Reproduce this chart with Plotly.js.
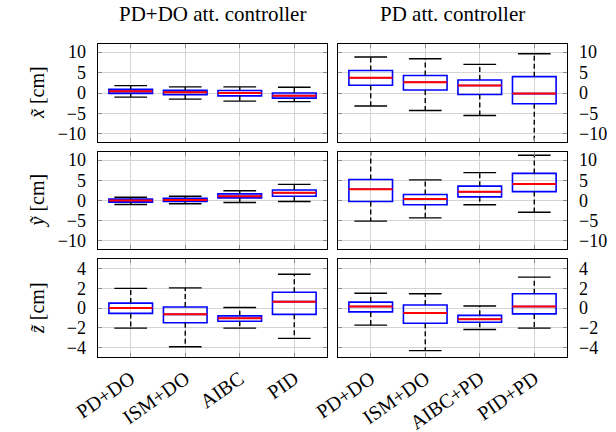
<!DOCTYPE html>
<html>
<head>
<meta charset="utf-8">
<script src="https://cdn.plot.ly/plotly-3.0.1.min.js"></script>
<style>html,body{margin:0;padding:0;background:#fff;}#chart{width:616px;height:432px;}</style>
</head>
<body>
<div id="chart"></div>
<script>
// Categories
const categoriesDO = ['PD+DO', 'ISM+DO', 'AIBC', 'PID'];
const categoriesPD = ['PD+DO', 'ISM+DO', 'AIBC+PD', 'PID+PD'];
const columnTitles = ['PD+DO att. controller', 'PD att. controller'];
const rowLabels = ['<i>x\u0303</i> [cm]', '<i>y\u0303</i> [cm]', '<i>z\u0303</i> [cm]'];

// Box statistics per category: [lower whisker, q1, median, q3, upper whisker]
const xErrDO = [[-1.0, -0.1, 0.4, 0.9, 1.8], [-1.5, -0.4, 0.2, 0.65, 1.5], [-2.0, -0.7, 0.0, 0.6, 1.5], [-2.1, -1.25, -0.65, 0.0, 1.4]];
const xErrPD = [[-3.2, 1.9, 3.75, 5.5, 8.8], [-4.3, 0.75, 2.65, 4.3, 8.4], [-5.5, -0.35, 1.85, 3.2, 7.0], [-14, -2.65, -0.15, 4.0, 9.6]];
const yErrDO = [[-1.0, -0.4, 0.0, 0.35, 0.8], [-0.8, -0.25, 0.15, 0.55, 1.05], [-0.5, 0.65, 1.05, 1.65, 2.4], [-0.25, 1.05, 1.9, 2.6, 4.0]];
const yErrPD = [[-5.1, -0.25, 2.8, 5.2, 14], [-4.3, -1.05, 0.35, 1.5, 5.1], [-1.05, 0.9, 2.15, 3.55, 6.9], [-2.9, 2.2, 4.1, 6.7, 11.2]];
const zErrDO = [[-2.05, -0.55, 0.0, 0.5, 2.0], [-3.95, -1.5, -0.65, 0.1, 2.05], [-2.05, -1.35, -1.05, -0.8, 0.05], [-3.1, -0.65, 0.65, 1.6, 3.45]];
const zErrPD = [[-1.75, -0.4, 0.15, 0.6, 1.5], [-4.35, -1.55, -0.5, 0.3, 1.45], [-2.2, -1.45, -1.15, -0.75, 0.2], [-2.05, -0.6, 0.15, 1.45, 3.15]];

// Tick values
const xyTicks = [-10, -5, 0, 5, 10];
const zTicks = [-4, -2, 0, 2, 4];

const panels = [
  {stats: xErrDO, cats: categoriesDO, ax: ''},
  {stats: xErrPD, cats: categoriesPD, ax: '2'},
  {stats: yErrDO, cats: categoriesDO, ax: '3'},
  {stats: yErrPD, cats: categoriesPD, ax: '4'},
  {stats: zErrDO, cats: categoriesDO, ax: '5'},
  {stats: zErrPD, cats: categoriesPD, ax: '6'}
];

const BOXW = 0.8, CAPW = 0.6;
const traces = [];
panels.forEach(p => {
  const xa = 'x' + p.ax, ya = 'y' + p.ax;
  const pos = p.stats.map((s, i) => i);
  const wx = [], wy = [], cx = [], cy = [], mx = [], my = [];
  p.stats.forEach((s, i) => {
    wx.push(i, i, null, i, i, null);
    wy.push(s[3], s[4], null, s[1], s[0], null);
    cx.push(i - CAPW / 2, i + CAPW / 2, null, i - CAPW / 2, i + CAPW / 2, null);
    cy.push(s[4], s[4], null, s[0], s[0], null);
    mx.push(i - BOXW / 2, i + BOXW / 2, null);
    my.push(s[2], s[2], null);
  });
  traces.push({type: 'scatter', mode: 'lines', x: wx, y: wy, xaxis: xa, yaxis: ya,
    line: {color: 'black', width: 1.4, dash: '5px,3px'}, hoverinfo: 'skip', showlegend: false});
  traces.push({type: 'box', x: pos, q1: p.stats.map(s => s[1]), median: p.stats.map(s => s[2]),
    q3: p.stats.map(s => s[3]), lowerfence: p.stats.map(s => s[1]), upperfence: p.stats.map(s => s[3]),
    width: BOXW, whiskerwidth: 0, xaxis: xa, yaxis: ya, line: {color: '#0000ff', width: 1.6},
    fillcolor: 'rgba(255,255,255,0)', hoverinfo: 'skip', showlegend: false, boxpoints: false});
  traces.push({type: 'scatter', mode: 'lines', x: cx, y: cy, xaxis: xa, yaxis: ya,
    line: {color: 'black', width: 1.4}, hoverinfo: 'skip', showlegend: false});
  traces.push({type: 'scatter', mode: 'lines', x: mx, y: my, xaxis: xa, yaxis: ya,
    line: {color: '#ff0000', width: 2}, hoverinfo: 'skip', showlegend: false});
});

const W = 616, H = 432;
const colDom = [[98 / W, 327 / W], [338 / W, 567 / W]];
const rowDom = [[1 - 142 / H, 1 - 44 / H], [1 - 249 / H, 1 - 152 / H], [1 - 357 / H, 1 - 259 / H]];
const FAMILY = '"Liberation Serif", "Times New Roman", serif';
const yTickFont = {family: FAMILY, size: 18, color: 'black'};
const xTickFont = {family: FAMILY, size: 20, color: 'black'};

const layout = {
  width: W, height: H, margin: {l: 0, r: 0, t: 0, b: 0},
  paper_bgcolor: 'white', plot_bgcolor: 'white', showlegend: false,
  font: yTickFont, boxmode: 'overlay', annotations: []
};

panels.forEach((p, k) => {
  const row = Math.floor(k / 2), col = k % 2;
  const common = {
    showgrid: true, gridcolor: '#d4d4d4', gridwidth: 1, zeroline: false,
    showline: true, linecolor: 'black', linewidth: 1.4, mirror: 'all',
    ticks: 'inside', ticklen: 4, tickcolor: '#8c8c8c', tickwidth: 1,
    fixedrange: true, automargin: false
  };
  layout['xaxis' + p.ax] = Object.assign({}, common, {
    domain: colDom[col], anchor: 'y' + p.ax, range: [-0.6, 3.6], tickfont: xTickFont,
    tickmode: 'array', tickvals: p.cats.map((c, i) => i), ticktext: p.cats,
    showticklabels: row === 2, tickangle: -35, ticklabelstandoff: 1
  });
  layout['yaxis' + p.ax] = Object.assign({}, common, {
    domain: rowDom[row], anchor: 'x' + p.ax, tickfont: yTickFont,
    range: row === 2 ? [-5, 5] : [-12, 12],
    tickmode: 'array', tickvals: row === 2 ? zTicks : xyTicks,
    side: col === 0 ? 'left' : 'right', ticklabelstandoff: 7
  });
});

columnTitles.forEach((t, c) => {
  layout.annotations.push({text: t, xref: 'paper', yref: 'paper', x: (colDom[c][0] + colDom[c][1]) / 2,
    y: 1 - 14 / H, xanchor: 'center', yanchor: 'middle', showarrow: false,
    font: {family: FAMILY, size: 21, color: 'black'}});
});
rowLabels.forEach((t, r) => {
  layout.annotations.push({text: t, xref: 'paper', yref: 'paper', x: 37 / W,
    y: (rowDom[r][0] + rowDom[r][1]) / 2, xanchor: 'center', yanchor: 'middle', textangle: -90,
    showarrow: false, font: {family: FAMILY, size: 20, color: 'black'}});
});

Plotly.newPlot('chart', traces, layout, {staticPlot: true, displayModeBar: false});
</script>
</body>
</html>
